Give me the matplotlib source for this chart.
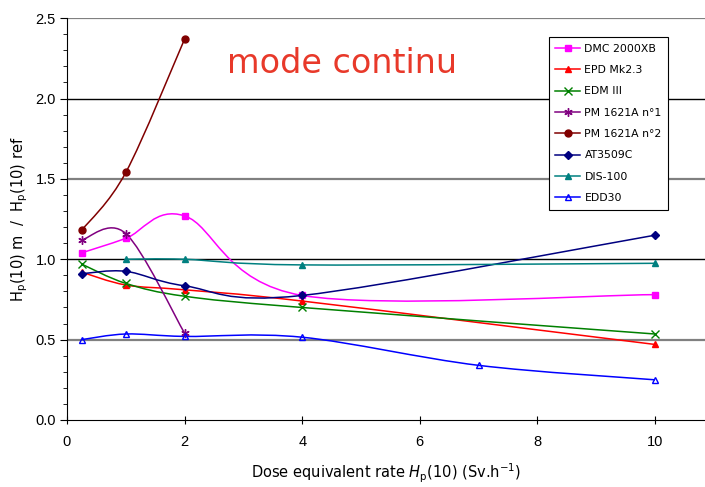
import matplotlib
matplotlib.use("Agg")
import matplotlib.pyplot as plt
import numpy as np
from matplotlib.path import Path
from matplotlib.patches import PathPatch
from matplotlib.lines import Line2D

# dose rate (Sv/h) and measured/reference ratio for each instrument
dmc_x = [0.25, 1, 2, 4, 10]
dmc_y = [1.04, 1.13, 1.27, 0.775, 0.78]

epd_x = [0.25, 1, 2, 4, 10]
epd_y = [0.92, 0.84, 0.81, 0.74, 0.47]

edm_x = [0.25, 1, 2, 4, 10]
edm_y = [0.97, 0.85, 0.77, 0.70, 0.535]

pm1_x = [0.25, 1, 2]
pm1_y = [1.12, 1.16, 0.54]

pm2_x = [0.25, 1, 2]
pm2_y = [1.18, 1.54, 2.37]

at_x = [0.25, 1, 2, 4, 10]
at_y = [0.91, 0.925, 0.835, 0.775, 1.15]

dis_x = [1, 2, 4, 10]
dis_y = [1.0, 1.0, 0.965, 0.975]

edd_x = [0.25, 1, 2, 4, 7, 10]
edd_y = [0.50, 0.535, 0.52, 0.515, 0.34, 0.25]

series = [
    ("DMC 2000XB", dmc_x, dmc_y, "#ff00ff", "s", 5, "#ff00ff"),
    ("EPD Mk2.3", epd_x, epd_y, "#ff0000", "^", 5, "#ff0000"),
    ("EDM III", edm_x, edm_y, "#008000", "x", 6, "#3cb371"),
    ("PM 1621A n°1", pm1_x, pm1_y, "#800080", (6, 2, 0), 6, "#800080"),
    ("PM 1621A n°2", pm2_x, pm2_y, "#800000", "o", 5, "#800000"),
    ("AT3509C", at_x, at_y, "#000080", "D", 4, "#000080"),
    ("DIS-100", dis_x, dis_y, "#008080", "^", 5, "#008080"),
    ("EDD30", edd_x, edd_y, "#0000ff", "^", 5, "none"),
]


def smooth_path(x, y):
    # Excel-like smoothed line: Catmull-Rom segments as cubic Beziers
    p = np.column_stack([x, y]).astype(float)
    verts = [p[0]]
    codes = [Path.MOVETO]
    n = len(p)
    for i in range(n - 1):
        p0 = p[i - 1] if i > 0 else p[i]
        p3 = p[i + 2] if i + 2 < n else p[i + 1]
        c1 = p[i] + (p[i + 1] - p0) / 6
        c2 = p[i + 1] - (p3 - p[i]) / 6
        verts += [c1, c2, p[i + 1]]
        codes += [Path.CURVE4] * 3
    return Path(verts, codes)


fig = plt.figure(figsize=(7.05, 4.87), dpi=100)
ax = fig.add_axes([0.095, 0.1376, 0.905, 0.825])

# horizontal grid: grey at .5 steps, black at whole values
for yv in [0.5, 1.5, 2.5]:
    ax.axhline(yv, color="#808080", lw=1.6, zorder=1)
for yv in [1.0, 2.0]:
    ax.axhline(yv, color="black", lw=1, zorder=1)

handles = []
for label, x, y, col, mk, ms, fc in series:
    ax.add_patch(PathPatch(smooth_path(x, y), fill=False, edgecolor=col,
                           lw=1.1, zorder=3))
    ax.plot(x, y, ls="none", marker=mk, ms=ms, color=col,
            markerfacecolor=fc, markeredgecolor=col, mew=1.0, zorder=4)
    handles.append(Line2D([], [], color=col, lw=1.1, marker=mk, ms=ms,
                          markerfacecolor=fc, markeredgecolor=col, mew=1.0,
                          label=label))

ax.set_xlim(0, 10.85)
ax.set_ylim(0, 2.5)
ax.set_xticks([0, 2, 4, 6, 8, 10])
ax.set_yticks([0, 0.5, 1.0, 1.5, 2.0, 2.5])
ax.set_yticklabels(["0.0", "0.5", "1.0", "1.5", "2.0", "2.5"])
ax.set_yticks(np.arange(0, 2.51, 0.1), minor=True)
ax.tick_params(axis="y", which="major", direction="out", length=5,
               labelsize=10.5, pad=3)
ax.tick_params(axis="y", which="minor", direction="out", length=3)
ax.tick_params(axis="x", direction="inout", length=6, labelsize=10.5,
               pad=8)
for lab in ax.get_xticklabels() + ax.get_yticklabels():
    lab.set_fontfamily("Liberation Sans")
for s in ["top", "right"]:
    ax.spines[s].set_visible(False)

ax.set_xlabel(r"Dose equivalent rate $H_{\mathrm{p}}$(10) (Sv.h$^{\mathregular{-1}}$)",
              fontsize=10.5, labelpad=9)
ax.set_ylabel(r"H$_{\mathrm{p}}$(10) m  /  H$_{\mathrm{p}}$(10) ref",
              fontsize=10.5, labelpad=4)

ax.text(4.68, 2.22, "mode continu", color="#e8392a", fontsize=24,
        ha="center", va="center")

leg = ax.legend(handles=handles, loc="upper left",
                bbox_to_anchor=(0.755, 0.953), fontsize=7.8, frameon=True,
                fancybox=False, edgecolor="black", framealpha=1,
                handlelength=2.3, handletextpad=0.4, borderpad=0.6,
                labelspacing=1.05, borderaxespad=0)
leg.get_frame().set_linewidth(0.8)

fig.savefig("out.png", dpi=100)
